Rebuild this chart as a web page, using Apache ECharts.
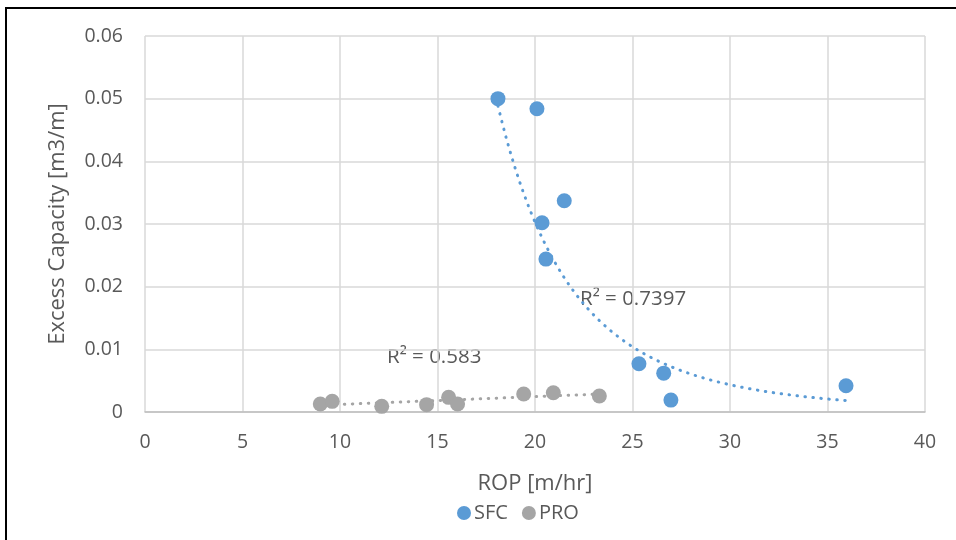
<!DOCTYPE html>
<html>
<head>
<meta charset="utf-8">
<title>Excess Capacity vs ROP</title>
<script src="https://cdn.jsdelivr.net/npm/echarts@6/dist/echarts.min.js"></script>
<style>
  html, body { margin: 0; padding: 0; background: #fff; }
  #chart { width: 956px; height: 540px; }
</style>
</head>
<body>
<div id="chart"></div>
<script>
// data
var sfcX = [18.1, 20.1, 21.5, 20.36, 20.56, 25.33, 26.6, 26.97, 35.95];
var sfcY = [0.0500, 0.0484, 0.0337, 0.0302, 0.0244, 0.0077, 0.0062, 0.0019, 0.0042];
var proX = [8.99, 9.6, 12.14, 14.44, 15.57, 16.03, 19.42, 20.94, 23.3];
var proY = [0.00128, 0.0017, 0.0009, 0.00117, 0.00234, 0.00128, 0.00287, 0.00308, 0.00255];
var xTicks = [0, 5, 10, 15, 20, 25, 30, 35, 40];
var yTicks = [0, 0.01, 0.02, 0.03, 0.04, 0.05, 0.06];

var font = 'Open Sans';

function pairs(xs, ys) {
    return xs.map(function (x, i) { return [x, ys[i]]; });
}

// least squares fit, same as the spreadsheet trendlines
function linFit(xs, ys) {
    var n = xs.length, mx = 0, my = 0;
    for (var i = 0; i < n; i++) { mx += xs[i]; my += ys[i]; }
    mx /= n; my /= n;
    var sxy = 0, sxx = 0;
    for (var j = 0; j < n; j++) {
        sxy += (xs[j] - mx) * (ys[j] - my);
        sxx += (xs[j] - mx) * (xs[j] - mx);
    }
    var b = sxy / sxx;
    return { a: my - b * mx, b: b };
}

// power trend y = A * x^b (fit in log space)
var pw = linFit(sfcX.map(Math.log), sfcY.map(Math.log));
var sfcMin = Math.min.apply(null, sfcX), sfcMax = Math.max.apply(null, sfcX);
var sfcTrend = [];
for (var k = 0; k <= 80; k++) {
    var xv = sfcMin + (sfcMax - sfcMin) * k / 80;
    sfcTrend.push([xv, Math.exp(pw.a) * Math.pow(xv, pw.b)]);
}

// linear trend for PRO
var ln = linFit(proX, proY);
var proMin = Math.min.apply(null, proX), proMax = Math.max.apply(null, proX);
var proTrend = [[proMin, ln.a + ln.b * proMin], [proMax, ln.a + ln.b * proMax]];

var chart = echarts.init(document.getElementById('chart'));
chart.setOption({
    animation: false,
    grid: { left: 145, right: 31, top: 36, bottom: 128 },
    xAxis: {
        type: 'value',
        min: 0, max: 40, interval: 5,
        name: 'ROP [m/hr]',
        nameLocation: 'middle',
        nameGap: 61,
        nameTextStyle: { fontFamily: font, fontSize: 22, color: '#595959' },
        axisLine: { show: true, lineStyle: { color: '#BFBFBF', width: 1.5 } },
        axisTick: { show: false },
        axisLabel: { fontFamily: font, fontSize: 19.5, color: '#595959', margin: 20 },
        splitLine: { show: true, lineStyle: { color: '#D9D9D9', width: 1.5 } }
    },
    yAxis: {
        type: 'value',
        min: 0, max: 0.06, interval: 0.01,
        name: 'Excess Capacity [m3/m]',
        nameLocation: 'middle',
        nameGap: 76,
        nameTextStyle: { fontFamily: font, fontSize: 22, color: '#595959' },
        axisLine: { show: false },
        axisTick: { show: false },
        axisLabel: {
            fontFamily: font, fontSize: 19.5, color: '#595959', margin: 22,
            formatter: function (v) { return String(+v.toFixed(2)); }
        },
        splitLine: { show: true, lineStyle: { color: '#D9D9D9', width: 1.5 } }
    },
    legend: {
        data: ['SFC', 'PRO'],
        bottom: 12,
        left: 452,
        icon: 'circle',
        itemWidth: 14, itemHeight: 14, itemGap: 14,
        textStyle: { fontFamily: font, fontSize: 20, color: '#595959', padding: [0, 0, 0, -2] }
    },
    series: [
        {
            name: 'SFC', type: 'scatter', symbolSize: 15, z: 3,
            itemStyle: { color: '#5B9BD5', opacity: 1 },
            data: pairs(sfcX, sfcY)
        },
        {
            name: 'PRO', type: 'scatter', symbolSize: 15, z: 3,
            itemStyle: { color: '#A5A5A5', opacity: 1 },
            data: pairs(proX, proY)
        },
        {
            name: 'SFC trend', type: 'line', showSymbol: false, silent: true, z: 2,
            lineStyle: { color: '#5B9BD5', width: 3, type: [0.5, 7.5], cap: 'round' },
            data: sfcTrend
        },
        {
            name: 'PRO trend', type: 'line', showSymbol: false, silent: true, z: 2,
            lineStyle: { color: '#A5A5A5', width: 3, type: [0.5, 7.5], cap: 'round' },
            data: proTrend
        }
    ],
    graphic: [
        {
            type: 'rect', silent: true,
            shape: { x: 6, y: 8, width: 1000, height: 700 },
            style: { fill: 'none', stroke: '#000', lineWidth: 2 }
        },
        {
            type: 'text', left: 580, top: 289,
            style: { text: 'R² = 0.7397', fontFamily: font, fontSize: 20.5, fill: '#595959' }
        },
        {
            type: 'text', left: 387, top: 347,
            style: { text: 'R² = 0.583', fontFamily: font, fontSize: 20.5, fill: '#595959' }
        }
    ]
});
</script>
</body>
</html>
